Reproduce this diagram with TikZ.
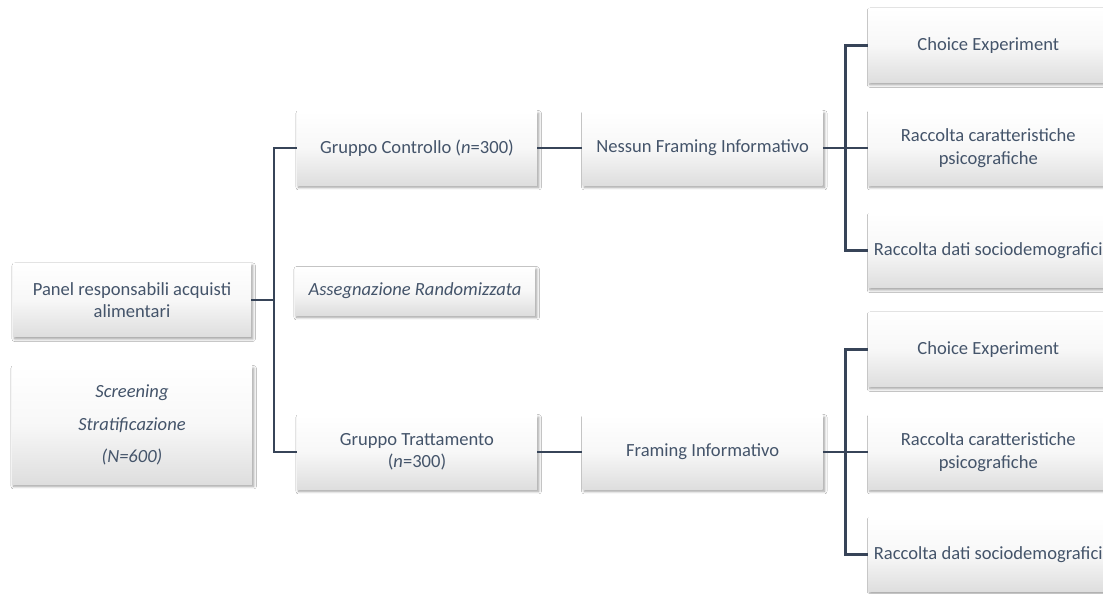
\documentclass[tikz,border=0pt]{standalone}
\usepackage{fontspec}
\setmainfont{Carlito}
\usepackage{tikz}
\usetikzlibrary{positioning, calc, shadows.blur}
\definecolor{DesignText}{RGB}{68, 84, 106}
\definecolor{DesignLine}{RGB}{55, 68, 88}

\begin{document}
\begin{tikzpicture}[
        x=0.025cm, y=-0.025cm,
        font=\fontsize{13.2pt}{16pt}\selectfont,
        every node/.style={align=center, text=DesignText},
        flowbox/.style={rectangle, draw=none, top color=white, bottom color=black!13, middle color=black!3, inner sep=2pt, minimum width=6cm, minimum height=1.85cm, blur shadow={shadow xshift=1.2pt, shadow yshift=-1.6pt, shadow blur steps=6, shadow opacity=40}},
        notebox/.style={flowbox, font=\fontsize{13.2pt}{16pt}\selectfont\itshape, minimum height=1.2cm},
        link/.style={draw=DesignLine, line width=1.6pt}
      ]
        \path[use as bounding box, fill=white] (0,0) rectangle (1103,593);

        % Left column: panel and sample
        \node[flowbox, minimum width=5.95cm, minimum height=1.83cm] (panel) at (132,300) {Panel responsabili acquisti\\alimentari};
        \node[flowbox, below=0.72cm of panel, minimum height=2.95cm, font=\fontsize{13.2pt}{23pt}\selectfont\itshape] (screen) {Screening\\Stratificazione\\(N=600)};

        % Groups
        \node[flowbox] (ctrl) at (417,148) {Gruppo Controllo (\textit{n}=300)};
        \node[notebox] (rand) at (415,291) {Assegnazione Randomizzata};
        \node[flowbox] (treat) at (417,452) {Gruppo Trattamento\\(\textit{n}=300)};

        % Framing conditions
        \node[flowbox, right=1.125cm of ctrl] (nofr) {Nessun Framing Informativo};
        \node[flowbox, right=1.125cm of treat] (fr) {Framing Informativo};

        % Measures, control branch
        \node[flowbox, right=1.125cm of nofr] (psyA) {Raccolta caratteristiche\\psicografiche};
        \node[flowbox, above=0.7cm of psyA] (choiceA) {Choice Experiment};
        \node[flowbox, below=0.7cm of psyA] (socioA) {Raccolta dati sociodemografici};

        % Measures, treatment branch
        \node[flowbox, right=1.125cm of fr] (psyB) {Raccolta caratteristiche\\psicografiche};
        \node[flowbox, above=0.7cm of psyB] (choiceB) {Choice Experiment};
        \node[flowbox, below=0.7cm of psyB] (socioB) {Raccolta dati sociodemografici};

        % Connections
        \coordinate (trunk) at ($(panel.east)!0.5!(ctrl.west |- panel.east)$);
        \draw[link] (panel.east) -- (trunk);
        \draw[link] (ctrl.west) -| (trunk) |- (treat.west);

        \draw[link] (ctrl) -- (nofr);
        \draw[link] (treat) -- (fr);

        \coordinate (splitA) at ($(nofr.east)!0.5!(psyA.west)$);
        \draw[link] (nofr.east) -- (psyA.west);
        \draw[link] (choiceA.west) -| (splitA) |- (socioA.west);

        \coordinate (splitB) at ($(fr.east)!0.5!(psyB.west)$);
        \draw[link] (fr.east) -- (psyB.west);
        \draw[link] (choiceB.west) -| (splitB) |- (socioB.west);
      \end{tikzpicture}
\end{document}
